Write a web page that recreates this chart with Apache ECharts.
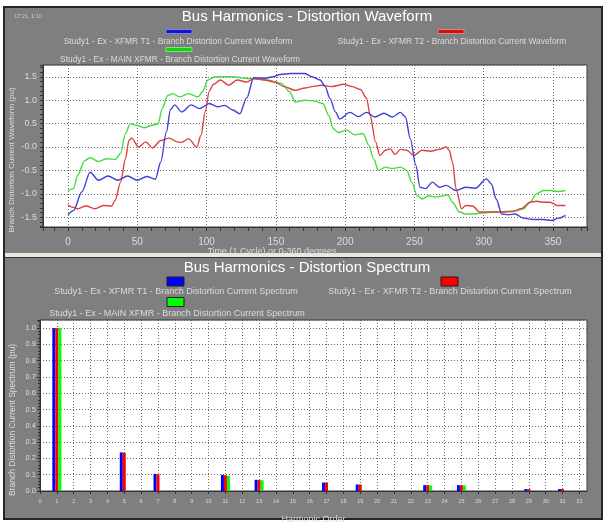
<!DOCTYPE html>
<html><head><meta charset="utf-8">
<script src="https://cdn.jsdelivr.net/npm/echarts@6/dist/echarts.min.js"></script>
<style>html,body{margin:0;padding:0;background:#fff}#c{width:604px;height:525px}</style>
</head><body><div id="c"></div>
<script>
// ---- Waveform data: [degrees, pu] ----
const waveT1 = [[0,-1.45],[4,-1.36],[10,-0.96],[16,-0.54],[22,-0.71],[29,-0.62],[36,-0.71],[43,-0.62],[50,-0.71],[57,-0.63],[63,-0.69],[67,-0.32],[71,0.32],[74,0.80],[77,0.90],[82,0.75],[89,0.90],[95,0.82],[102,0.93],[108,0.86],[113,0.89],[119,0.79],[124,0.71],[129,1.05],[134,1.48],[142,1.47],[148,1.50],[153,1.55],[161,1.57],[171,1.57],[176,1.50],[182,1.43],[185.5,1.30],[189,1.04],[193,0.75],[196,0.60],[203.5,0.74],[209.5,0.65],[215.5,0.74],[221.5,0.64],[228,0.72],[234,0.64],[240,0.74],[243.5,0.64],[247,0.18],[251,-0.39],[254,-0.86],[258,-0.89],[263,-0.75],[268,-0.86],[273,-0.82],[280,-0.93],[287,-0.86],[294,-0.88],[302,-0.68],[305.5,-0.79],[309,-1.11],[313,-1.43],[318,-1.45],[322.5,-1.43],[328.5,-1.52],[336,-1.55],[343,-1.55],[349,-1.57],[354,-1.52],[359,-1.46]];
const waveT2 = [[0,-1.24],[4,-1.29],[7,-1.32],[13,-1.26],[19.5,-1.32],[25.5,-1.25],[31.5,-1.26],[34,-1.14],[38,-0.75],[41.5,-0.25],[44,0.14],[46,0.19],[51,0.0],[56,0.11],[61,-0.02],[67,0.14],[73,0.19],[79,0.11],[82,0.10],[87,0.18],[93,0.0],[96,0.25],[99,0.75],[102,1.2],[105,1.34],[110,1.43],[116,1.32],[122,1.43],[129,1.39],[134,1.46],[142,1.43],[149,1.39],[156,1.29],[164,1.21],[171,1.26],[176,1.29],[183,1.32],[190,1.29],[199,1.34],[205,1.29],[211,1.23],[215.5,1.04],[218,0.68],[222,0.11],[225,-0.18],[229,-0.07],[232.5,-0.04],[236,-0.16],[240,-0.05],[244.5,-0.07],[249.5,-0.18],[255.5,-0.07],[261.5,-0.09],[268,-0.05],[273,0.0],[275,-0.07],[277.5,-0.32],[280,-0.89],[284,-1.32],[287,-1.25],[292,-1.26],[297,-1.39],[302,-1.39],[308,-1.39],[314,-1.39],[321,-1.38],[327,-1.32],[333.5,-1.18],[338,-1.16],[343,-1.18],[348,-1.18],[353,-1.25],[359,-1.25]];
const waveMain = [[0,-0.93],[4,-0.89],[7,-0.61],[12,-0.29],[16,-0.23],[22,-0.31],[28,-0.25],[34,-0.27],[38,-0.14],[41.5,0.29],[45,0.5],[50,0.46],[55,0.41],[60,0.46],[65,0.49],[68,0.82],[72,1.1],[75.5,1.14],[80.5,1.07],[87,1.14],[94,1.07],[97,1.18],[101,1.43],[106,1.5],[118,1.5],[132,1.46],[144,1.43],[154,1.36],[160,1.18],[164,0.96],[171,1.0],[178,0.98],[184,0.93],[188,0.68],[191.5,0.39],[195,0.31],[201,0.36],[207,0.26],[213,0.29],[217,0.04],[220.5,-0.25],[224,-0.5],[229,-0.43],[234,-0.46],[240,-0.43],[244.5,-0.5],[248,-0.75],[252,-1.04],[255.5,-1.11],[260,-1.04],[265,-1.07],[270,-1.05],[274,-1.02],[277.5,-1.18],[282.5,-1.39],[287,-1.43],[293,-1.43],[299.5,-1.41],[307,-1.39],[314,-1.38],[324,-1.36],[328.5,-1.32],[333.5,-1.18],[338,-1.0],[343,-0.93],[348,-0.93],[353,-0.95],[359,-0.93]];

// ---- Spectrum data ----
const harmonicOrders = [1, 5, 7, 11, 13, 17, 19, 23, 25, 29, 31];
const specT1   = [1.0, 0.237, 0.105, 0.099, 0.069, 0.052, 0.040, 0.036, 0.036, 0.012, 0.012];
const specT2   = [1.0, 0.235, 0.103, 0.097, 0.068, 0.052, 0.040, 0.036, 0.036, 0.012, 0.012];
const specMain = [1.0, 0, 0, 0.094, 0.066, 0, 0, 0.034, 0.034, 0, 0];

// ---- Texts ----
const stamp = '17:21, 1:10';
const waveTitle = 'Bus Harmonics - Distortion Waveform';
const specTitle = 'Bus Harmonics - Distortion Spectrum';
const waveNames = ['Study1 - Ex - XFMR T1 - Branch Distortion Current Waveform','Study1 - Ex - XFMR T2 - Branch Distortion Current Waveform','Study1 - Ex - MAIN XFMR - Branch Distortion Current Waveform'];
const specNames = ['Study1 - Ex - XFMR T1 - Branch Distortion Current Spectrum','Study1 - Ex - XFMR T2 - Branch Distortion Current Spectrum','Study1 - Ex - MAIN XFMR - Branch Distortion Current Spectrum'];
const waveXName = 'Time (1 Cycle) or 0-360 degrees';
const waveYName = 'Branch Distortion Current Waveform (pu)';
const specXName = 'Harmonic Order';
const specYName = 'Branch Distortion Current Spectrum (pu)';

const lineColors = ['#4040d8', '#e04040', '#44dc44'];
const barColors = ['#0000ff', '#ff0000', '#00ff00'];
const waveLegendColors = ['#1515c8', '#d01010', '#10d010'];

const FONT = '"Liberation Sans", Arial, sans-serif';
const TXT = '#dcdcdc';

function txt(x, y, s, size, color, extra) {
  return Object.assign({type:'text', x:x, y:y, z:5, silent:true,
    style:{text:s, fill:color||TXT, font: size+'px '+FONT, align:'center', verticalAlign:'middle', textAlign:'center', textVerticalAlign:'middle'}}, extra||{});
}
function rect(x, y, w, h, fill, stroke) {
  return {type:'rect', z:5, silent:true, shape:{x:x,y:y,width:w,height:h}, style:{fill:fill, stroke:stroke||null, lineWidth:stroke?1:0}};
}

const graphics = [
  {type:'rect', z:-10, silent:true, shape:{x:4,y:7,width:598,height:512}, style:{fill:'#7f7f7f', stroke:'#262626', lineWidth:2}},
  {type:'rect', z:-9, silent:true, shape:{x:5,y:253,width:596,height:4}, style:{fill:'#e9e8dc'}},
  {type:'line', z:-9, silent:true, shape:{x1:5,y1:257.5,x2:601,y2:257.5}, style:{stroke:'#303030',lineWidth:1}},
  txt(28, 16, stamp, 5.5, '#cfcfcf'),
  txt(307, 17, waveTitle, 15, '#ffffff'),
  rect(166, 29.5, 26, 4, waveLegendColors[0], '#8080e0'),
  txt(178, 41.5, waveNames[0], 8.4),
  rect(438, 29.5, 26, 4, waveLegendColors[1], '#e08080'),
  txt(452, 41.5, waveNames[1], 8.4),
  rect(166, 47.5, 26, 4, waveLegendColors[2], '#80e080'),
  txt(180, 59.5, waveNames[2], 8.4),
  txt(272, 252, waveXName, 9),
  txt(12, 160, waveYName, 8, TXT, {rotation: Math.PI/2}),
  txt(307, 268, specTitle, 15, '#ffffff'),
  rect(167, 277, 17, 9, barColors[0], '#202020'),
  txt(176, 292, specNames[0], 9),
  rect(441, 277, 17, 9, barColors[1], '#202020'),
  txt(450, 292, specNames[1], 9),
  rect(167, 297.5, 17, 9, barColors[2], '#202020'),
  txt(177, 314, specNames[2], 9),
  txt(13, 420, specYName, 8.5, TXT, {rotation: Math.PI/2})
];

const gridLine = {show:true, lineStyle:{color:'#6a6a6a', type:[1,2], width:1}};

const option = {
  backgroundColor: '#ffffff',
  animation: false,
  textStyle: {fontFamily: FONT},
  graphic: {elements: graphics},
  grid: [
    {left:43, top:65, width:544, height:162, show:true, backgroundColor:'#ffffff', borderColor:'#3a3a3a', borderWidth:1, containLabel:false},
    {left:40, top:320, width:547, height:177, show:true, backgroundColor:'#ffffff', borderColor:'#3a3a3a', borderWidth:1, containLabel:false}
  ],
  xAxis: [
    {type:'value', gridIndex:0, min:-18, max:374.5, splitNumber:8,
     axisLine:{show:true, onZero:false, lineStyle:{color:'#333'}},
     axisTick:{show:true, inside:false, length:4, lineStyle:{color:'#333'}},
     minorTick:{show:true, splitNumber:5, length:4, lineStyle:{color:'#333'}},
     axisLabel:{showMinLabel:false, showMaxLabel:false, color:TXT, fontSize:10, margin:10, fontFamily:FONT},
     splitLine:gridLine},
    {type:'value', gridIndex:1, min:0, max:32.45, splitNumber:32,
     axisLine:{show:true, onZero:false, lineStyle:{color:'#333'}},
     axisTick:{show:true, inside:false, length:3, lineStyle:{color:'#333'}},
     axisLabel:{showMaxLabel:false, color:TXT, fontSize:5.5, margin:7, fontFamily:FONT},
     name:specXName, nameLocation:'middle', nameGap:24,
     nameTextStyle:{color:TXT, fontSize:9, fontFamily:FONT},
     splitLine:gridLine}
  ],
  yAxis: [
    {type:'value', gridIndex:0, min:-1.709, max:1.752, splitNumber:7,
     axisLine:{show:true, onZero:false, lineStyle:{color:'#333'}},
     axisTick:{show:true, inside:false, length:3, lineStyle:{color:'#333'}},
     minorTick:{show:true, splitNumber:5, length:3, lineStyle:{color:'#333'}},
     axisLabel:{showMinLabel:false, showMaxLabel:false, color:TXT, fontSize:9, margin:6, fontFamily:FONT,
       formatter: v => Math.abs(v) < 1e-9 ? '-0.0' : v.toFixed(1)},
     splitLine:gridLine},
    {type:'value', gridIndex:1, min:0, max:1.05, splitNumber:10,
     axisLine:{show:true, onZero:false, lineStyle:{color:'#333'}},
     axisTick:{show:true, inside:false, length:3, lineStyle:{color:'#333'}},
     minorTick:{show:true, splitNumber:5, length:2, lineStyle:{color:'#333'}},
     axisLabel:{showMaxLabel:false, color:TXT, fontSize:7.5, margin:4, fontFamily:FONT,
       formatter: v => v.toFixed(1)},
     splitLine:gridLine}
  ],
  series: [
    {name:waveNames[0], type:'line', xAxisIndex:0, yAxisIndex:0, data:waveT1, showSymbol:false, smooth:0.3, smoothMonotone:'x', lineStyle:{color:lineColors[0], width:1.4}, z:4},
    {name:waveNames[1], type:'line', xAxisIndex:0, yAxisIndex:0, data:waveT2, showSymbol:false, smooth:0.3, smoothMonotone:'x', lineStyle:{color:lineColors[1], width:1.4}, z:3},
    {name:waveNames[2], type:'line', xAxisIndex:0, yAxisIndex:0, data:waveMain, showSymbol:false, smooth:0.3, smoothMonotone:'x', lineStyle:{color:lineColors[2], width:1.4}, z:2},
    {name:specNames[0], type:'bar', xAxisIndex:1, yAxisIndex:1, barWidth:3, barGap:'0%', data:harmonicOrders.map((h,i)=>[h,specT1[i]]), itemStyle:{color:barColors[0]}},
    {name:specNames[1], type:'bar', xAxisIndex:1, yAxisIndex:1, barWidth:3, barGap:'0%', data:harmonicOrders.map((h,i)=>[h,specT2[i]]), itemStyle:{color:barColors[1]}},
    {name:specNames[2], type:'bar', xAxisIndex:1, yAxisIndex:1, barWidth:3, barGap:'0%', data:harmonicOrders.map((h,i)=>[h,specMain[i]]), itemStyle:{color:barColors[2]}}
  ]
};
const chart = echarts.init(document.getElementById('c'), null, {renderer:'canvas'});
chart.setOption(option);
</script>
</body></html>
